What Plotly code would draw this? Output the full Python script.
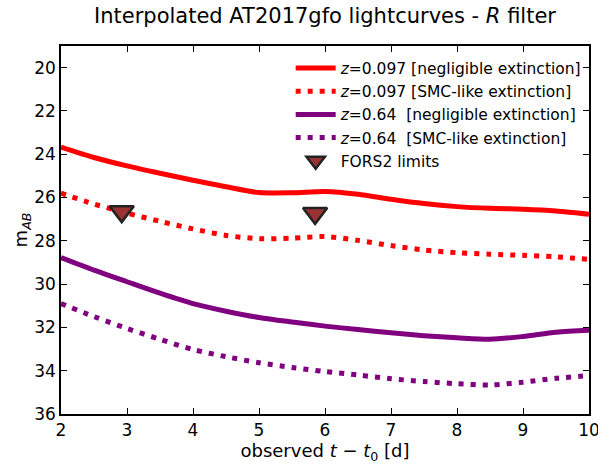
import plotly.graph_objects as go

t = [2.0, 2.5, 3.0, 3.5, 4.0, 4.5, 5.0, 5.5, 6.0, 6.5, 7.0, 7.5, 8.0, 8.5, 9.0, 9.5, 10.0]
red_neg = [23.67, 24.15, 24.54, 24.88, 25.20, 25.50, 25.77, 25.78, 25.72, 25.85, 26.08, 26.28, 26.42, 26.50, 26.54, 26.62, 26.77]
red_smc = [25.80, 26.30, 26.72, 27.10, 27.45, 27.75, 27.90, 27.88, 27.80, 27.98, 28.22, 28.42, 28.55, 28.62, 28.67, 28.74, 28.86]
pur_neg = [28.77, 29.35, 29.89, 30.42, 30.90, 31.25, 31.54, 31.75, 31.94, 32.10, 32.25, 32.38, 32.48, 32.55, 32.42, 32.22, 32.13]
pur_smc = [30.90, 31.50, 32.05, 32.55, 33.02, 33.35, 33.63, 33.85, 34.04, 34.20, 34.37, 34.50, 34.60, 34.66, 34.53, 34.35, 34.23]
fors2_t = [2.92, 5.85]
fors2_m = [26.65, 26.73]

names = [
    "<i>z</i>=0.097 [negligible extinction]",
    "<i>z</i>=0.097 [SMC-like extinction]",
    "<i>z</i>=0.64\u00a0\u00a0[negligible extinction]",
    "<i>z</i>=0.64\u00a0\u00a0[SMC-like extinction]",
    "FORS2 limits",
]

fig = go.Figure()
series = [
    (red_neg, "#ff0000", "solid"),
    (red_smc, "#ff0000", "5px,7px"),
    (pur_neg, "#800080", "solid"),
    (pur_smc, "#800080", "5px,7px"),
]
for (ys, col, dash), nm in zip(series, names[:4]):
    fig.add_trace(go.Scatter(x=t, y=ys, mode="lines", name=nm,
                             line=dict(color=col, width=5, dash=dash, shape="spline", smoothing=0.8)))

fig.add_trace(go.Scatter(x=fors2_t, y=fors2_m, mode="markers", name=names[4],
                         marker=dict(symbol="triangle-down", size=21, color="#9b3232",
                                     line=dict(color="#222222", width=2.5))))

fig.update_layout(
    width=598, height=468,
    margin=dict(l=61, r=9, t=46, b=54, autoexpand=False),
    paper_bgcolor="white", plot_bgcolor="white",
    font=dict(family="DejaVu Sans", color="black", size=17),
    title=dict(text="Interpolated AT2017gfo lightcurves - <i>R</i> filter",
               x=325 / 598, xanchor="center",
               y=1 - 16 / 468, yanchor="middle", font=dict(size=21)),
    showlegend=True,
    legend=dict(x=0.435, y=0.985, xanchor="left", yanchor="top", bgcolor="rgba(0,0,0,0)",
                font=dict(size=15.5), tracegroupgap=0, itemwidth=40),
)
fig.update_xaxes(range=[2, 10], tickmode="array", tickvals=list(range(2, 11)),
                 ticks="inside", ticklen=6, tickwidth=1, tickcolor="black",
                 showline=True, linecolor="black", linewidth=1.5, mirror="allticks",
                 showgrid=False, zeroline=False, automargin=False, ticklabeloverflow="allow",
                 title=dict(text="observed <i>t</i> \u2212 <i>t</i><sub>0</sub> [d]", standoff=2,
                            font=dict(size=18)))
fig.update_yaxes(range=[36, 19], tickmode="array", tickvals=list(range(20, 37, 2)),
                 ticks="inside", ticklen=6, tickwidth=1, tickcolor="black",
                 showline=True, linecolor="black", linewidth=1.5, mirror="allticks",
                 showgrid=False, zeroline=False, automargin=False, ticklabeloverflow="allow",
                 title=dict(text="m<sub><i>AB</i></sub>", standoff=2, font=dict(size=18)))

fig.write_html("out.html", config={"displayModeBar": False},
               post_script="document.body.style.margin='0px';")
